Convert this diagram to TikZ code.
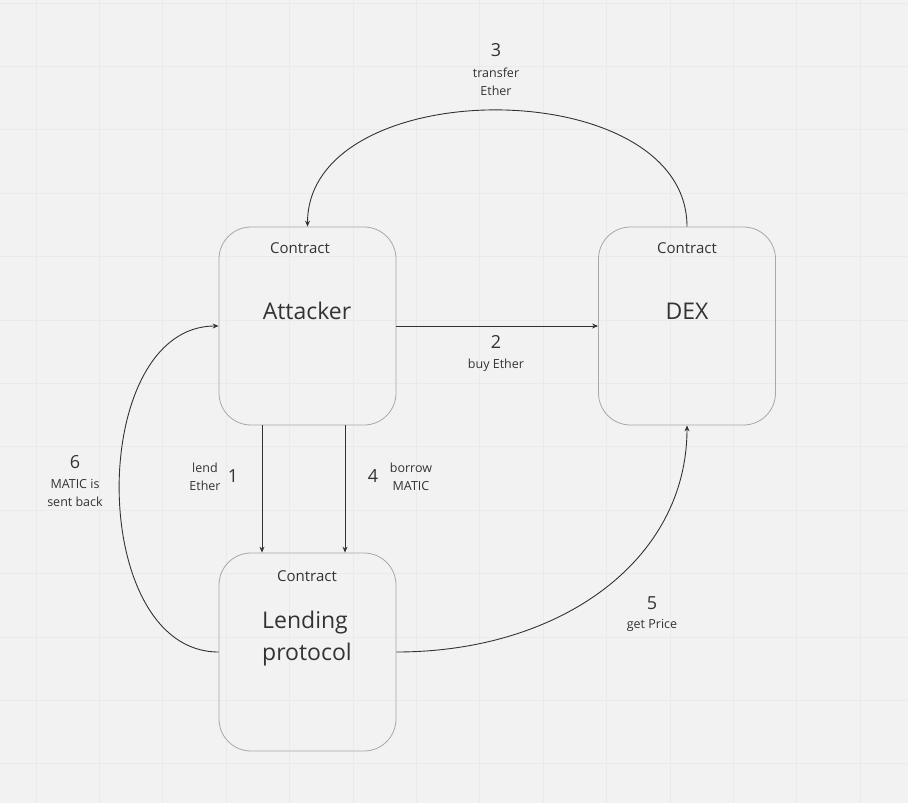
\documentclass[tikz,border=0pt]{standalone}
\usepackage{fontspec}
\setmainfont{Open Sans}
\usetikzlibrary{arrows.meta}
\definecolor{ink}{HTML}{333333}
\definecolor{paper}{HTML}{F2F2F2}
\definecolor{gridline}{HTML}{EAEAEA}
\definecolor{boxline}{HTML}{A8A8A8}
\newcommand{\stepnote}[5]{
	\node[num](#1)at(#2){#3};
	\node[note](#1note)at(#4){#5};
}
\begin{document}
\begin{tikzpicture}[x=1pt, y=-1pt,
	box/.style={draw=boxline, line width=.8pt, rounded corners=32pt, minimum width=177pt, minimum height=198pt, inner sep=0pt},
	tag/.style={font=\fontsize{15}{18}\selectfont, text=ink},
	title/.style={font=\fontsize{23}{32}\selectfont, text=ink, align=left},
	num/.style={font=\fontsize{18}{20}\selectfont, text=ink},
	note/.style={font=\fontsize{12.5}{18}\selectfont, text=ink, align=center},
	link/.style={draw=ink, line width=.9pt, -{Stealth[length=6pt, width=5pt]}}]
		\fill[paper](0, 0)rectangle(908, 803);
		\useasboundingbox(0, 0)rectangle(908, 803);
		\foreach \k in {0,...,13}\draw[gridline, line width=1pt](36+63.4*\k, 0)--++(0, 803);
		\foreach \k in {0,...,12}\draw[gridline, line width=1pt](0, 3+63.4*\k)--++(908, 0);
		\node[box](attacker)at(307.5, 326){};
		\node[box](dex)at(687, 326){};
		\node[box](lending)at(307.5, 652){};
		\node[tag](attackertag)at(300, 248){Contract};
		\node[title](attackername)at(307, 311){Attacker};
		\node[tag](dextag)at(687, 248){Contract};
		\node[title](dexname)at(687, 311){DEX};
		\node[tag](lendingtag)at(307, 576){Contract};
		\node[title](lendingname)at(307, 639){Lending\\protocol};
		\draw[link](attacker.east)--(dex.west);
		\draw[link](dex.north)..controls +(0, -155) and +(0, -155)..(attacker.north);
		\draw[link]([xshift=-45.5pt]attacker.south)--([xshift=-45.5pt]lending.north);
		\draw[link]([xshift=37.5pt]attacker.south)--([xshift=37.5pt]lending.north);
		\draw[link](lending.east)..controls +(164, 0) and +(0, 135)..(dex.south);
		\draw[link](lending.west)..controls +(-132, 0) and +(-132, 0)..(attacker.west);
		\stepnote{one}{233, 476}{1}{205, 477}{lend\\Ether}
		\stepnote{two}{496, 342}{2}{496, 365}{buy Ether}
		\stepnote{three}{496, 50}{3}{496, 82}{transfer\\Ether}
		\stepnote{four}{373, 476}{4}{411, 477}{borrow\\MATIC}
		\stepnote{five}{652, 603}{5}{652, 625}{get Price}
		\stepnote{six}{75, 462}{6}{75, 493}{MATIC is\\sent back}
	\end{tikzpicture}
\end{document}
